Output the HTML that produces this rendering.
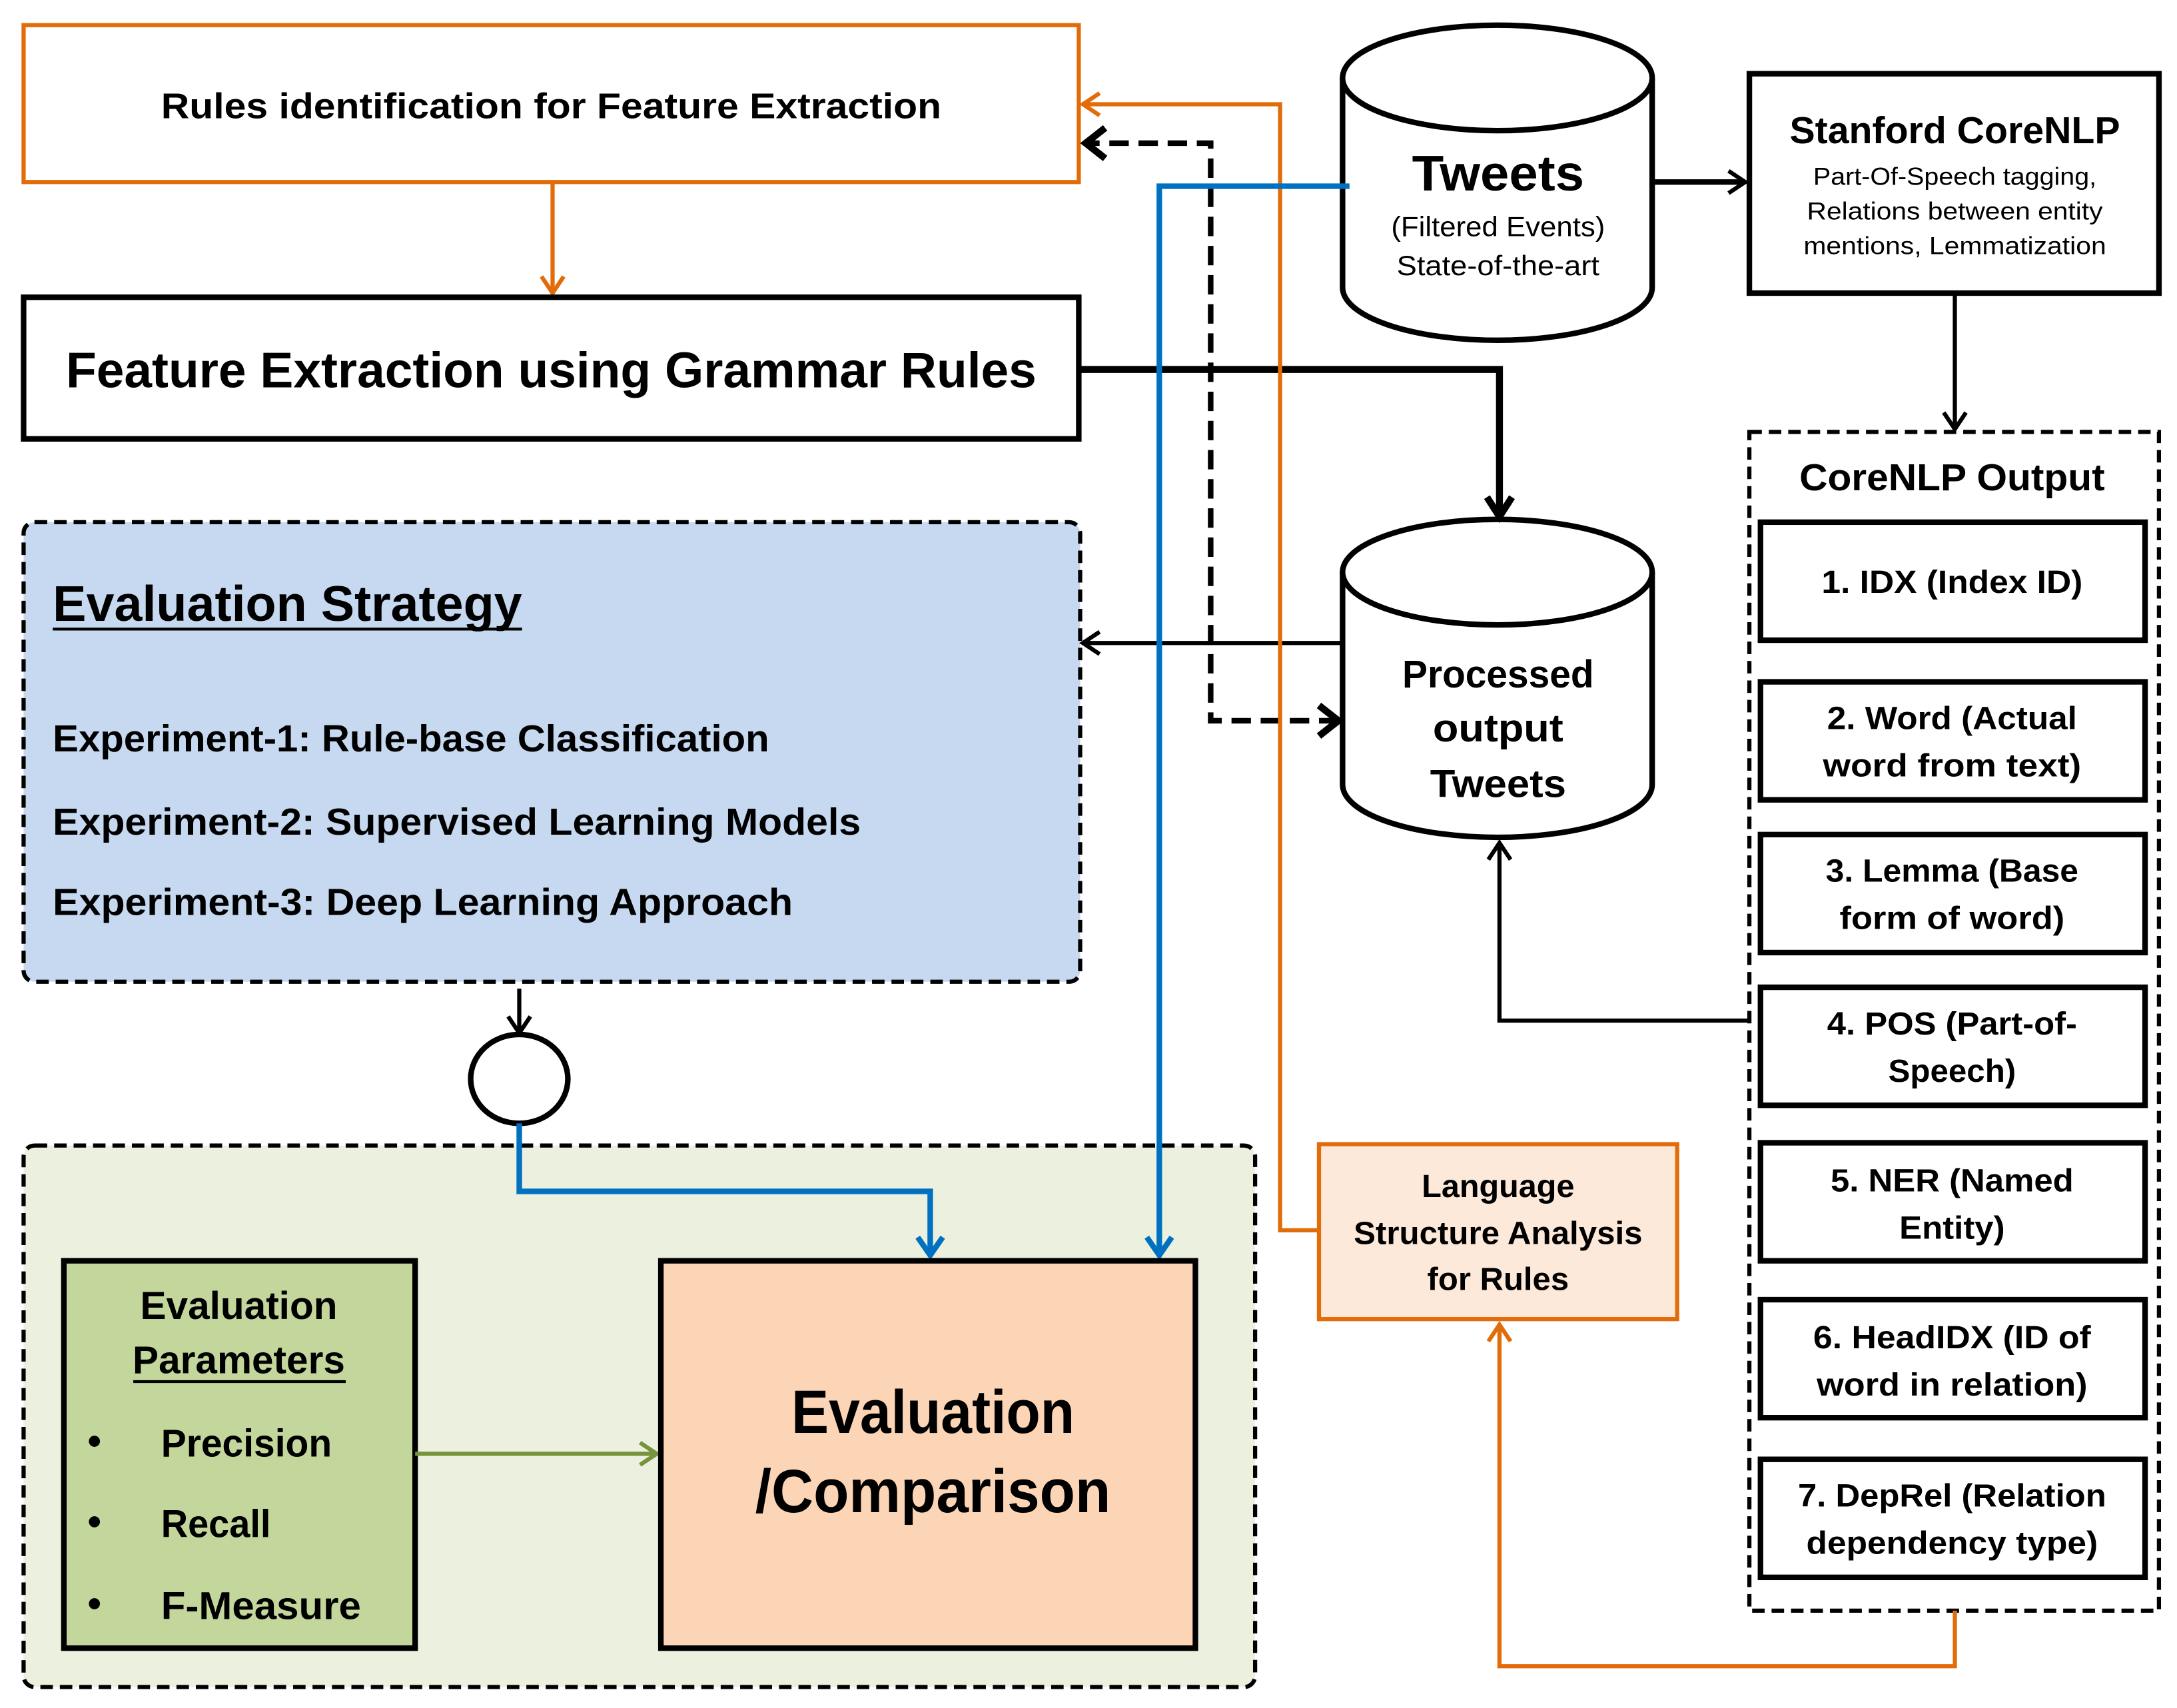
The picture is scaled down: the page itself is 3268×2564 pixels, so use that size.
<!DOCTYPE html>
<html><head><meta charset="utf-8"><style>html,body{margin:0;padding:0;background:#fff}svg{display:block}text{font-family:"Liberation Sans",sans-serif;font-weight:bold}</style></head><body>
<svg width="3268" height="2564" viewBox="0 0 1568 1230" xmlns="http://www.w3.org/2000/svg">
<defs>
<marker id="ab" markerUnits="userSpaceOnUse" markerWidth="30" markerHeight="30" refX="14" refY="10" orient="auto" viewBox="0 0 30 20"><path d="M2,2 L14,10 L2,18" fill="none" stroke="#000" stroke-width="3"/></marker>
<marker id="abb" markerUnits="userSpaceOnUse" markerWidth="30" markerHeight="30" refX="16" refY="10" orient="auto" viewBox="0 0 30 20"><path d="M2,1 L16,10 L2,19" fill="none" stroke="#000" stroke-width="5"/></marker>
<marker id="ao" markerUnits="userSpaceOnUse" markerWidth="30" markerHeight="30" refX="14" refY="10" orient="auto" viewBox="0 0 30 20"><path d="M2,2 L14,10 L2,18" fill="none" stroke="#e36c0a" stroke-width="3"/></marker>
<marker id="abl" markerUnits="userSpaceOnUse" markerWidth="30" markerHeight="30" refX="14" refY="10" orient="auto" viewBox="0 0 30 20"><path d="M1,1 L14,10 L1,19" fill="none" stroke="#0070c0" stroke-width="4"/></marker>
<marker id="ag" markerUnits="userSpaceOnUse" markerWidth="30" markerHeight="30" refX="14" refY="10" orient="auto" viewBox="0 0 30 20"><path d="M2,2 L14,10 L2,18" fill="none" stroke="#77933c" stroke-width="3"/></marker>
</defs>
<rect width="1568" height="1230" fill="#fff"/>

<!-- backgrounds -->
<rect x="17" y="825" width="887" height="390" rx="8" fill="#ebf1de" stroke="#000" stroke-width="3" stroke-dasharray="9,5"/>
<rect x="17" y="376" width="761" height="331" rx="8" fill="#c6d9f0" stroke="#000" stroke-width="3" stroke-dasharray="9,5"/>

<!-- Rules box -->
<rect x="17" y="18" width="760" height="113" fill="#fff" stroke="#e36c0a" stroke-width="3"/>
<text x="397" y="85" font-size="26" text-anchor="middle" textLength="562" lengthAdjust="spacingAndGlyphs">Rules identification for Feature Extraction</text>
<line x1="398" y1="131" x2="398" y2="211" stroke="#e36c0a" stroke-width="3" marker-end="url(#ao)"/>

<!-- Feature box -->
<rect x="17" y="214" width="760" height="102" fill="#fff" stroke="#000" stroke-width="4"/>
<text x="397" y="279" font-size="36" text-anchor="middle" textLength="699" lengthAdjust="spacingAndGlyphs">Feature Extraction using Grammar Rules</text>

<!-- Tweets cylinder -->
<path d="M967,56 L967,207 A111.5,38 0 0 0 1190,207 L1190,56" fill="#fff" stroke="#000" stroke-width="4"/>
<ellipse cx="1078.5" cy="56" rx="111.5" ry="38" fill="#fff" stroke="#000" stroke-width="4"/>
<text x="1079" y="137" font-size="36" text-anchor="middle" textLength="124" lengthAdjust="spacingAndGlyphs">Tweets</text>
<text x="1079" y="170" font-size="20" font-weight="normal" style="font-weight:normal" text-anchor="middle" textLength="154" lengthAdjust="spacingAndGlyphs">(Filtered Events)</text>
<text x="1079" y="198" font-size="20" style="font-weight:normal" text-anchor="middle" textLength="146" lengthAdjust="spacingAndGlyphs">State-of-the-art</text>

<!-- Stanford -->
<line x1="1190" y1="131" x2="1257" y2="131" stroke="#000" stroke-width="4" marker-end="url(#ab)"/>
<rect x="1260" y="53" width="295" height="158" fill="#fff" stroke="#000" stroke-width="4"/>
<text x="1408" y="103" font-size="27" text-anchor="middle" textLength="238" lengthAdjust="spacingAndGlyphs">Stanford CoreNLP</text>
<text x="1408" y="133" font-size="18" style="font-weight:normal" text-anchor="middle" textLength="204" lengthAdjust="spacingAndGlyphs">Part-Of-Speech tagging,</text>
<text x="1408" y="158" font-size="18" style="font-weight:normal" text-anchor="middle" textLength="213" lengthAdjust="spacingAndGlyphs">Relations between entity</text>
<text x="1408" y="183" font-size="18" style="font-weight:normal" text-anchor="middle" textLength="218" lengthAdjust="spacingAndGlyphs">mentions, Lemmatization</text>
<line x1="1408" y1="211" x2="1408" y2="309" stroke="#000" stroke-width="3" marker-end="url(#ab)"/>

<!-- CoreNLP output -->
<rect x="1260" y="311" width="295" height="849" fill="#fff" stroke="#000" stroke-width="3" stroke-dasharray="9,5"/>
<text x="1406" y="353" font-size="27" text-anchor="middle" textLength="220" lengthAdjust="spacingAndGlyphs">CoreNLP Output</text>
<g stroke="#000" stroke-width="4" fill="#fff">
<rect x="1268" y="376" width="277" height="85"/>
<rect x="1268" y="491" width="277" height="85"/>
<rect x="1268" y="601" width="277" height="85"/>
<rect x="1268" y="711" width="277" height="85"/>
<rect x="1268" y="823" width="277" height="85"/>
<rect x="1268" y="936" width="277" height="85"/>
<rect x="1268" y="1051" width="277" height="85"/>
</g>
<g font-size="23" text-anchor="middle">
<text x="1406" y="427" textLength="188" lengthAdjust="spacingAndGlyphs">1. IDX (Index ID)</text>
<text x="1406" y="525" textLength="180" lengthAdjust="spacingAndGlyphs">2. Word (Actual</text>
<text x="1406" y="559" textLength="186" lengthAdjust="spacingAndGlyphs">word from text)</text>
<text x="1406" y="635" textLength="182" lengthAdjust="spacingAndGlyphs">3. Lemma (Base</text>
<text x="1406" y="669" textLength="162" lengthAdjust="spacingAndGlyphs">form of word)</text>
<text x="1406" y="745" textLength="180" lengthAdjust="spacingAndGlyphs">4. POS (Part-of-</text>
<text x="1406" y="779" textLength="92" lengthAdjust="spacingAndGlyphs">Speech)</text>
<text x="1406" y="858" textLength="175" lengthAdjust="spacingAndGlyphs">5. NER (Named</text>
<text x="1406" y="892" textLength="76" lengthAdjust="spacingAndGlyphs">Entity)</text>
<text x="1406" y="971" textLength="200" lengthAdjust="spacingAndGlyphs">6. HeadIDX (ID of</text>
<text x="1406" y="1005" textLength="195" lengthAdjust="spacingAndGlyphs">word in relation)</text>
<text x="1406" y="1085" textLength="222" lengthAdjust="spacingAndGlyphs">7. DepRel (Relation</text>
<text x="1406" y="1119" textLength="210" lengthAdjust="spacingAndGlyphs">dependency type)</text>
</g>

<!-- Processed cylinder -->
<path d="M967,412 L967,565 A111.5,38 0 0 0 1190,565 L1190,412" fill="#fff" stroke="#000" stroke-width="4"/>
<ellipse cx="1078.5" cy="412" rx="111.5" ry="38" fill="#fff" stroke="#000" stroke-width="4"/>
<g font-size="28" text-anchor="middle">
<text x="1079" y="495" textLength="138" lengthAdjust="spacingAndGlyphs">Processed</text>
<text x="1079" y="534" textLength="94" lengthAdjust="spacingAndGlyphs">output</text>
<text x="1079" y="574" textLength="98" lengthAdjust="spacingAndGlyphs">Tweets</text>
</g>

<!-- connectors -->
<polyline points="777,266 1080,266 1080,372" fill="none" stroke="#000" stroke-width="5" marker-end="url(#abb)"/>
<line x1="967" y1="463" x2="780" y2="463" stroke="#000" stroke-width="3" marker-end="url(#ab)"/>
<polyline points="964,519 872,519 872,103 782,103" fill="none" stroke="#000" stroke-width="4" stroke-dasharray="14,7"/>
<path d="M950,508 L964,519 L950,530" fill="none" stroke="#000" stroke-width="5"/>
<path d="M796,92 L782,103 L796,114" fill="none" stroke="#000" stroke-width="5"/>
<polyline points="950,886 922,886 922,75 780,75" fill="none" stroke="#e36c0a" stroke-width="3" marker-end="url(#ao)"/>
<polyline points="972,134 835,134 835,904" fill="none" stroke="#0070c0" stroke-width="4" marker-end="url(#abl)"/>
<polyline points="1260,735 1080,735 1080,607" fill="none" stroke="#000" stroke-width="3" marker-end="url(#ab)"/>
<polyline points="1408,1160 1408,1200 1080,1200 1080,954" fill="none" stroke="#e36c0a" stroke-width="3" marker-end="url(#ao)"/>

<!-- Eval strategy text -->
<text x="38" y="447" font-size="36" textLength="338" lengthAdjust="spacingAndGlyphs">Evaluation Strategy</text>
<line x1="38" y1="453" x2="376" y2="453" stroke="#000" stroke-width="2"/>
<text x="38" y="541" font-size="27" textLength="516" lengthAdjust="spacingAndGlyphs">Experiment-1: Rule-base Classification</text>
<text x="38" y="601" font-size="27" textLength="582" lengthAdjust="spacingAndGlyphs">Experiment-2: Supervised Learning Models</text>
<text x="38" y="659" font-size="27" textLength="533" lengthAdjust="spacingAndGlyphs">Experiment-3: Deep Learning Approach</text>

<line x1="374" y1="712" x2="374" y2="744" stroke="#000" stroke-width="3" marker-end="url(#ab)"/>
<ellipse cx="374" cy="777" rx="35" ry="32" fill="#fff" stroke="#000" stroke-width="4"/>
<polyline points="374,809 374,858 670,858 670,904" fill="none" stroke="#0070c0" stroke-width="4" marker-end="url(#abl)"/>

<!-- Language box -->
<rect x="950" y="824" width="258" height="126" fill="#fde9d9" stroke="#e36c0a" stroke-width="3"/>
<g font-size="23" text-anchor="middle">
<text x="1079" y="862" textLength="110" lengthAdjust="spacingAndGlyphs">Language</text>
<text x="1079" y="896" textLength="208" lengthAdjust="spacingAndGlyphs">Structure Analysis</text>
<text x="1079" y="929" textLength="102" lengthAdjust="spacingAndGlyphs">for Rules</text>
</g>

<!-- Eval params -->
<rect x="46" y="908" width="253" height="279" fill="#c3d69b" stroke="#000" stroke-width="4"/>
<g font-size="28">
<text x="172" y="950" text-anchor="middle" textLength="142" lengthAdjust="spacingAndGlyphs">Evaluation</text>
<text x="172" y="989" text-anchor="middle" textLength="153" lengthAdjust="spacingAndGlyphs">Parameters</text>
<text x="116" y="1049" textLength="123" lengthAdjust="spacingAndGlyphs">Precision</text>
<text x="116" y="1107" textLength="79" lengthAdjust="spacingAndGlyphs">Recall</text>
<text x="116" y="1166" textLength="144" lengthAdjust="spacingAndGlyphs">F-Measure</text>
</g>
<line x1="96" y1="995" x2="249" y2="995" stroke="#000" stroke-width="2"/>
<circle cx="68" cy="1038" r="4" fill="#000"/>
<circle cx="68" cy="1096" r="4" fill="#000"/>
<circle cx="68" cy="1155" r="4" fill="#000"/>
<line x1="299" y1="1047" x2="473" y2="1047" stroke="#77933c" stroke-width="3" marker-end="url(#ag)"/>

<!-- Eval comparison -->
<rect x="476" y="908" width="385" height="279" fill="#fbd5b5" stroke="#000" stroke-width="4"/>
<text x="672" y="1032" font-size="44" text-anchor="middle" textLength="204" lengthAdjust="spacingAndGlyphs">Evaluation</text>
<text x="672" y="1089" font-size="44" text-anchor="middle" textLength="256" lengthAdjust="spacingAndGlyphs">/Comparison</text>
</svg>
</body></html>
